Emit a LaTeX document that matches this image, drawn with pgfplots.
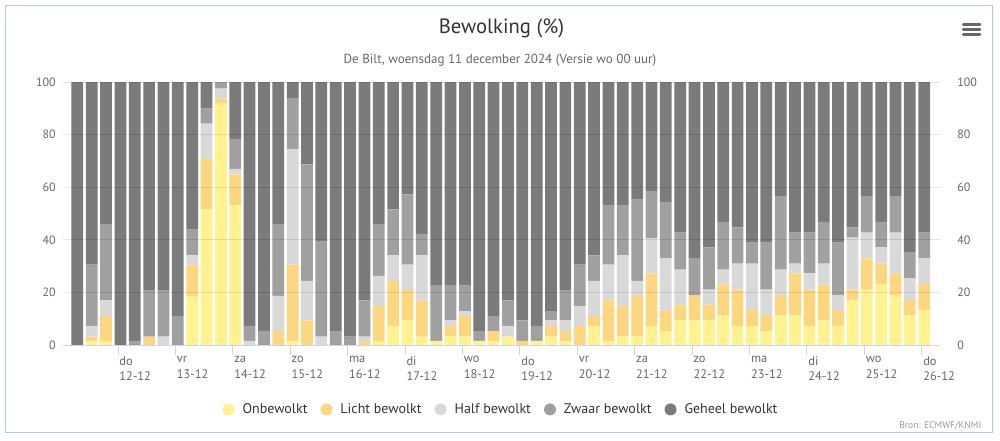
\documentclass[border=0pt]{standalone}
\usepackage{pgfplots}
\pgfplotsset{compat=1.18}
\usepackage{pgfplotstable}
\usepackage{fontspec}
\setmainfont{PT Sans}

\definecolor{onb}{RGB}{255,242,143}
\definecolor{licht}{RGB}{253,214,128}
\definecolor{half}{RGB}{217,217,217}
\definecolor{zwaar}{RGB}{160,160,160}
\definecolor{geheel}{RGB}{123,123,123}
\definecolor{axisblue}{RGB}{204,214,235}
\definecolor{frameblue}{RGB}{170,200,240}
\definecolor{txtdark}{RGB}{51,51,51}
\definecolor{txtmid}{RGB}{102,102,102}
\definecolor{txtlight}{RGB}{153,153,153}

% bewolking per 6 uur, 11-12 06 UTC t/m 26-12 00 UTC
\pgfplotstableread{
i onb licht half zwaar geheel
0 0 0 0 0 100
1 1.6 1.6 4.1 23.3 69.4
2 1.6 9.4 6.0 29.0 54.0
3 0 0 0 0 100
4 0 0 0 1.6 98.4
5 0 3.2 0 17.7 79.1
6 0 0 3.2 17.7 79.1
7 0 0 0 11.0 89.0
8 18.7 11.9 3.5 9.8 56.1
9 51.6 19.2 13.4 5.7 10.1
10 91.8 1.9 3.8 2.5 0
11 53.2 11.7 2.1 11.4 21.6
12 0 0 1.6 5.7 92.7
13 0 0 0 5.3 94.7
14 0 5.3 13.4 27.3 54.0
15 1.6 29.0 43.8 19.5 6.1
16 0 9.4 15.0 44.3 31.3
17 0 0 3.2 36.4 60.4
18 0 0 0 5.3 94.7
19 0 0 0 3.2 96.8
20 0 1.6 1.6 13.8 83.0
21 1.6 13.3 11.4 19.7 54.0
22 7.3 17.1 9.7 17.5 48.4
23 9.4 11.5 9.7 26.7 42.7
24 3.2 13.8 17.1 7.9 58.0
25 1.6 0 0 21.2 77.2
26 3.2 4.1 2.1 13.4 77.2
27 3.2 7.8 1.9 9.9 77.2
28 1.6 0 0 3.7 94.7
29 1.6 3.7 0 5.7 89.0
30 3.2 0 4.1 9.7 83.0
31 0 1.6 0 7.8 90.6
32 1.6 0 0 5.7 92.7
33 3.2 4.1 2.1 3.5 87.1
34 1.6 3.7 4.1 11.5 79.1
35 0 7.3 7.6 15.7 69.4
36 7.3 3.7 13.4 9.7 65.9
37 1.6 15.4 13.6 22.6 46.8
38 3.2 11.7 19.2 19.1 46.8
39 3.2 15.5 5.7 30.9 44.7
40 7.3 19.9 13.3 18.0 41.5
41 5.3 7.9 19.8 21.4 45.6
42 9.4 6.0 13.3 14.0 57.3
43 9.4 9.6 0 14.0 67.0
44 9.4 6.0 5.7 16.0 62.9
45 11.4 11.6 5.7 18.1 53.2
46 7.3 13.8 9.8 13.8 55.3
47 7.3 6.0 17.6 8.0 61.1
48 5.3 6.1 9.7 17.8 61.1
49 11.4 7.6 9.7 27.9 43.4
50 11.4 15.8 3.7 11.8 57.3
51 7.3 13.8 6.1 15.5 57.3
52 9.4 13.6 7.9 15.9 53.2
53 7.3 6.0 5.7 19.9 61.1
54 17.1 4.0 19.7 3.9 55.3
55 21.1 11.8 9.8 13.9 43.4
56 23.2 7.7 6.2 9.7 53.2
57 19.0 8.2 15.5 13.9 43.4
58 11.4 5.7 8.2 9.8 64.9
59 13.3 9.9 9.7 9.8 57.3
}\bewolking

\begin{document}
\begin{tikzpicture}
% 1px = 0.75pt, y naar beneden
\path[use as bounding box] (0,0) rectangle (750pt,-330pt);
\draw[frameblue, line width=0.75pt] (3.75pt,-3.75pt) rectangle (744pt,-324pt);

\node[anchor=base, font=\fontsize{15.5}{18}\selectfont, text=txtdark] at (376.1pt,-24.75pt) {Bewolking (\%)};
\node[anchor=base, font=\fontsize{9.8}{12}\selectfont, text=txtmid] at (375pt,-47.25pt) {De Bilt, woensdag 11 december 2024 (Versie wo 00 uur)};
\node[anchor=base east, font=\fontsize{7.2}{8}\selectfont, text=txtlight] at (739.5pt,-321pt) {Bron: ECMWF/KNMI};

% menu-icoon
\foreach \yy in {-18.4pt,-22.1pt,-25.9pt}
  \draw[txtmid, line width=2.2pt, line cap=round] (722.5pt,\yy) -- (735pt,\yy);

\begin{axis}[
  at={(47.25pt,-258.75pt)}, anchor=south west,
  scale only axis, width=657.75pt, height=197.25pt,
  ybar stacked, bar width=8.8pt,
  xmin=-1, xmax=60.1, ymin=0, ymax=100,
  axis on top,
  ymajorgrids,
  major grid style={draw=black, opacity=0.1, line width=0.75pt},
  axis x line*=bottom, axis y line*=left,
  y axis line style={draw=none},
  x axis line style={draw=axisblue, line width=0.75pt, -},
  tick align=inside, major tick length=7.5pt,
  ytick={0,20,40,60,80,100},
  ytick style={draw=none},
  yticklabel style={anchor=east, inner sep=0pt, xshift=-5.25pt,
    font=\fontsize{9}{10}\selectfont, text=txtmid},
  xtick={2.8333,6.8333,10.8333,14.8333,18.8333,22.8333,26.8333,30.8333,
         34.8333,38.8333,42.8333,46.8333,50.8333,54.8333,58.8333},
  xticklabels={{do\\12-12},{vr\\13-12},{za\\14-12},{zo\\15-12},{ma\\16-12},
    {di\\17-12},{wo\\18-12},{do\\19-12},{vr\\20-12},{za\\21-12},{zo\\22-12},
    {ma\\23-12},{di\\24-12},{wo\\25-12},{do\\26-12}},
  xtick style={draw=axisblue, line width=0.75pt, yshift=-7.5pt},
  xticklabel style={anchor=north west, align=left, inner sep=0pt,
    xshift=0.9pt, yshift=-8.5pt,
    font=\fontsize{9.3}{11.6}\selectfont, text=txtmid},
  /pgf/number format/assume math mode=true,
  legend image code/.code={\fill[#1] (4.5pt,0pt) circle (4.5pt);
    \path[fill=none, draw=none] (0pt,-4.5pt) rectangle (15pt,4.5pt);},
  legend style={at={(0.4983,-0.245)}, anchor=center, draw=none, fill=none,
    legend columns=-1, font=\fontsize{10.5}{12}\selectfont, text=txtdark,
    nodes={inner sep=0pt},
    /tikz/every even column/.append style={column sep=9.75pt}},
]
\addplot[fill=onb, draw=none] table[x=i, y=onb] {\bewolking};
\addplot[fill=licht, draw=none] table[x=i, y=licht] {\bewolking};
\addplot[fill=half, draw=none] table[x=i, y=half] {\bewolking};
\addplot[fill=zwaar, draw=none] table[x=i, y=zwaar] {\bewolking};
\addplot[fill=geheel, draw=none] table[x=i, y=geheel] {\bewolking};
\legend{Onbewolkt, Licht bewolkt, Half bewolkt, Zwaar bewolkt, Geheel bewolkt}
\end{axis}

% rechter as, alleen labels
\begin{axis}[
  at={(47.25pt,-258.75pt)}, anchor=south west,
  scale only axis, width=657.75pt, height=197.25pt,
  xmin=-1, xmax=60.1, ymin=0, ymax=100,
  axis x line=none, axis y line*=right,
  y axis line style={draw=none},
  tick align=inside,
  ytick={0,20,40,60,80,100},
  ytick style={draw=none},
  yticklabel style={anchor=west, inner sep=0pt, xshift=12.75pt,
    font=\fontsize{9}{10}\selectfont, text=txtmid},
  /pgf/number format/assume math mode=true,
]
\end{axis}
\end{tikzpicture}
\end{document}
